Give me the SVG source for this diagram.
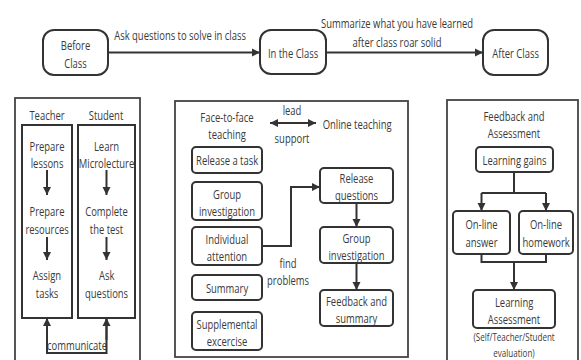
<svg xmlns="http://www.w3.org/2000/svg" width="581" height="360" viewBox="0 0 581 360">
<defs>
<marker id="ah" viewBox="0 0 10 10" refX="10" refY="5" markerWidth="8" markerHeight="9" markerUnits="userSpaceOnUse" orient="auto-start-reverse">
<path d="M0,0 L10,5 L0,10 z" fill="#333"/>
</marker>
<style>
text{font-family:"Open Sans","Liberation Sans",sans-serif;font-size:13.5px;fill:#3a3a3a;text-anchor:middle;dominant-baseline:central;transform-box:fill-box;transform-origin:center;transform:scaleX(.7)}
text.s{font-size:11.5px}
.node{fill:#fff;stroke:#333;stroke-width:2}
.panel{fill:#fff;stroke:#444;stroke-width:1.8}
.box{fill:#fff;stroke:#333;stroke-width:2}
.c{fill:none;stroke:#333;stroke-width:2}
.a{marker-end:url(#ah)}
</style>
</defs>
<rect width="581" height="360" fill="#fff"/>

<!-- panels -->
<g id="panel-before"><rect class="panel" x="15" y="98" width="125" height="275"/></g>
<g id="panel-in"><rect class="panel" x="175" y="101" width="233" height="256"/></g>
<g id="panel-after"><rect class="panel" x="447" y="100" width="131" height="275"/></g>

<!-- top row nodes -->
<g id="before-class"><rect class="node" x="43" y="30" width="65" height="45" rx="11"/><text x="75.5" y="45">Before</text><text x="75.5" y="63">Class</text></g>
<g id="in-the-class"><rect class="node" x="260" y="30" width="66" height="44" rx="11"/><text x="293" y="53">In the Class</text></g>
<g id="after-class"><rect class="node" x="483" y="30" width="65" height="45" rx="11"/><text x="515.5" y="53">After Class</text></g>

<!-- left panel -->
<g id="teacher-label"><text x="47" y="115">Teacher</text></g>
<g id="student-label"><text x="106" y="115">Student</text></g>
<g id="teacher"><rect class="box" x="22" y="125" width="50" height="193"/>
<text x="47" y="146">Prepare</text><text x="47" y="163">lessons</text>
<text x="47" y="211">Prepare</text><text x="47" y="229">resources</text>
<text x="47" y="275">Assign</text><text x="47" y="293">tasks</text></g>
<g id="student"><rect class="box" x="78" y="125" width="57" height="193"/>
<text x="106.5" y="146">Learn</text><text x="106.5" y="163">Microlecture</text>
<text x="106.5" y="211">Complete</text><text x="106.5" y="229">the test</text>
<text x="106.5" y="275">Ask</text><text x="106.5" y="293">questions</text></g>
<g id="communicate-label"><text x="77" y="345">communicate</text></g>

<!-- middle panel -->
<g id="f2f-label"><text x="227" y="117">Face-to-face</text><text x="227" y="134">teaching</text></g>
<g id="online-label"><text x="357" y="124">Online teaching</text></g>
<g id="lead-label"><text x="292" y="110">lead</text><text x="292" y="138">support</text></g>
<g id="release-task"><rect class="box" x="192" y="147" width="70" height="26" rx="4"/><text x="227" y="160">Release a task</text></g>
<g id="group-inv-1"><rect class="box" x="192" y="182" width="70" height="38" rx="4"/><text x="227" y="194">Group</text><text x="227" y="211">investigation</text></g>
<g id="individual"><rect class="box" x="192" y="227" width="70" height="38" rx="4"/><text x="227" y="239">Individual</text><text x="227" y="256">attention</text></g>
<g id="summary"><rect class="box" x="192" y="275" width="70" height="25" rx="4"/><text x="227" y="288">Summary</text></g>
<g id="supplemental"><rect class="box" x="192" y="312" width="70" height="38" rx="4"/><text x="227" y="324">Supplemental</text><text x="227" y="341">excercise</text></g>
<g id="find-label"><text x="288" y="263">find</text><text x="288" y="280">problems</text></g>
<g id="release-q"><rect class="box" x="320" y="168" width="73" height="35" rx="4"/><text x="356.5" y="178">Release</text><text x="356.5" y="195">questions</text></g>
<g id="group-inv-2"><rect class="box" x="320" y="227" width="73" height="36" rx="4"/><text x="356.5" y="238">Group</text><text x="356.5" y="255">investigation</text></g>
<g id="feedback-summary"><rect class="box" x="320" y="290" width="73" height="36" rx="4"/><text x="356.5" y="301">Feedback and</text><text x="356.5" y="318">summary</text></g>

<!-- right panel -->
<g id="fa-label"><text x="514" y="116">Feedback and</text><text x="514" y="133">Assessment</text></g>
<g id="learning-gains"><rect class="box" x="476" y="147" width="77" height="25" rx="4"/><text x="514.5" y="160">Learning gains</text></g>
<g id="online-answer"><rect class="box" x="453" y="211" width="57" height="43" rx="4"/><text x="481.5" y="224">On-line</text><text x="481.5" y="242">answer</text></g>
<g id="online-homework"><rect class="box" x="519" y="211" width="54" height="43" rx="4"/><text x="546" y="224">On-line</text><text x="546" y="242">homework</text></g>
<g id="learning-assessment"><rect class="box" x="473" y="290" width="82" height="38" rx="4"/><text x="514" y="302">Learning</text><text x="514" y="319">Assessment</text></g>
<g id="eval-label"><text class="s" x="514" y="336">(Self/Teacher/Student</text><text class="s" x="514" y="352">evaluation)</text></g>

<!-- connectors -->
<g id="connectors">
<line class="c a" x1="108" y1="52.5" x2="260" y2="52.5"/>
<text x="180" y="35">Ask questions to solve in class</text>
<line class="c a" x1="326" y1="52.5" x2="483" y2="52.5"/>
<text x="397" y="23">Summarize what you have learned</text>
<text x="397" y="42">after class roar solid</text>

<line class="c a" x1="47" y1="170" x2="47" y2="195"/>
<line class="c a" x1="47" y1="237" x2="47" y2="260"/>
<line class="c a" x1="106.5" y1="170" x2="106.5" y2="195"/>
<line class="c a" x1="106.5" y1="237" x2="106.5" y2="260"/>
<polyline class="c" points="47,318 47,353 106.5,353 106.5,318"/>
<line class="c a" x1="47" y1="340" x2="47" y2="318"/>
<line class="c a" x1="106.5" y1="340" x2="106.5" y2="318"/>

<line class="c a" x1="270" y1="123" x2="316" y2="123" style="marker-start:url(#ah)"/>
<polyline class="c a" points="262,246 291,246 291,187 320,187"/>
<line class="c a" x1="356.5" y1="203" x2="356.5" y2="227"/>
<line class="c a" x1="356.5" y1="263" x2="356.5" y2="290"/>

<line class="c" x1="514" y1="172" x2="514" y2="193"/>
<polyline class="c" points="481.5,193 546,193"/>
<line class="c a" x1="481.5" y1="193" x2="481.5" y2="211"/>
<line class="c a" x1="546" y1="193" x2="546" y2="211"/>
<polyline class="c" points="481.5,254 481.5,262 546,262 546,254"/>
<line class="c a" x1="514" y1="262" x2="514" y2="290"/>
</g>
</svg>
